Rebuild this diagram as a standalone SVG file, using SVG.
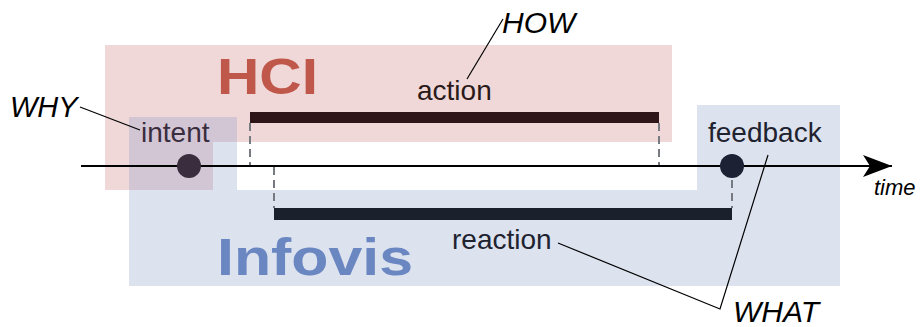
<svg xmlns="http://www.w3.org/2000/svg" width="921" height="327" viewBox="0 0 921 327">
<style>
.lbl{font-family:"Liberation Sans",Arial,sans-serif;font-size:28px}
.it{font-family:"Liberation Sans",Arial,sans-serif;font-style:italic;fill:#000}
.big{font-family:"Liberation Sans",Arial,sans-serif;font-weight:bold}
.dash{stroke:#777a80;stroke-width:2;stroke-dasharray:8,5;fill:none}
.lead{stroke:#000;stroke-width:1.2;fill:none}
</style>
<defs>
<marker id="arr" markerWidth="30" markerHeight="22" refX="29" refY="11" orient="auto" markerUnits="userSpaceOnUse">
<path d="M0,0 L29,11 L0,22 L7,11 Z" fill="#000"/>
</marker>
</defs>
<g id="regions">
<polygon points="105,45 672,45 672,142 213,142 213,190 105,190" fill="#f0d8d8"/>
<polygon points="129,117 237,117 237,190 697,190 697,105 840,105 840,286 129,286" fill="#dce2ee"/>
<polygon points="129,117 237,117 237,142 213,142 213,190 129,190" fill="#d2c5d4"/>
</g>
<g id="hci"><text class="big" x="217" y="94" font-size="50" fill="#c0574b" textLength="101" lengthAdjust="spacingAndGlyphs">HCI</text></g>
<g id="infovis"><text class="big" x="217" y="275" font-size="52" fill="#6a87c2" textLength="196" lengthAdjust="spacingAndGlyphs">Infovis</text></g>
<g id="connectors">
<line x1="81" y1="166" x2="892" y2="166" stroke="#000" stroke-width="2.2" marker-end="url(#arr)"/>
<line class="dash" x1="250" y1="123" x2="250" y2="165"/>
<line class="dash" x1="659" y1="123" x2="659" y2="165"/>
<line class="dash" x1="274" y1="167" x2="274" y2="208"/>
<line class="dash" x1="732" y1="167" x2="732" y2="208"/>
<polyline class="lead" points="80,107 140,130"/>
<polyline class="lead" points="503,19 467,79"/>
<polyline class="lead" points="558,243 720,309 768,155"/>
</g>
<g id="action">
<rect x="250" y="112" width="409" height="11" fill="#2e1517"/>
<text class="lbl" x="417" y="100" fill="#2b1a1a">action</text>
</g>
<g id="reaction">
<rect x="274" y="208" width="458" height="12" fill="#1b202d"/>
<text class="lbl" x="452" y="249" fill="#1f2330">reaction</text>
</g>
<g id="intent">
<circle cx="189" cy="166" r="12" fill="#3a2d3d"/>
<text class="lbl" x="141" y="142" fill="#3a2d3d">intent</text>
</g>
<g id="feedback">
<circle cx="732" cy="166" r="12" fill="#1c2233"/>
<text class="lbl" x="708" y="142" fill="#1f2330">feedback</text>
</g>
<g id="why"><text class="it" x="10" y="117" font-size="29">WHY</text></g>
<g id="how"><text class="it" x="502" y="33" font-size="30">HOW</text></g>
<g id="what"><text class="it" x="733" y="322" font-size="30">WHAT</text></g>
<g id="time"><text class="it" x="874" y="195" font-size="22">time</text></g>
</svg>
